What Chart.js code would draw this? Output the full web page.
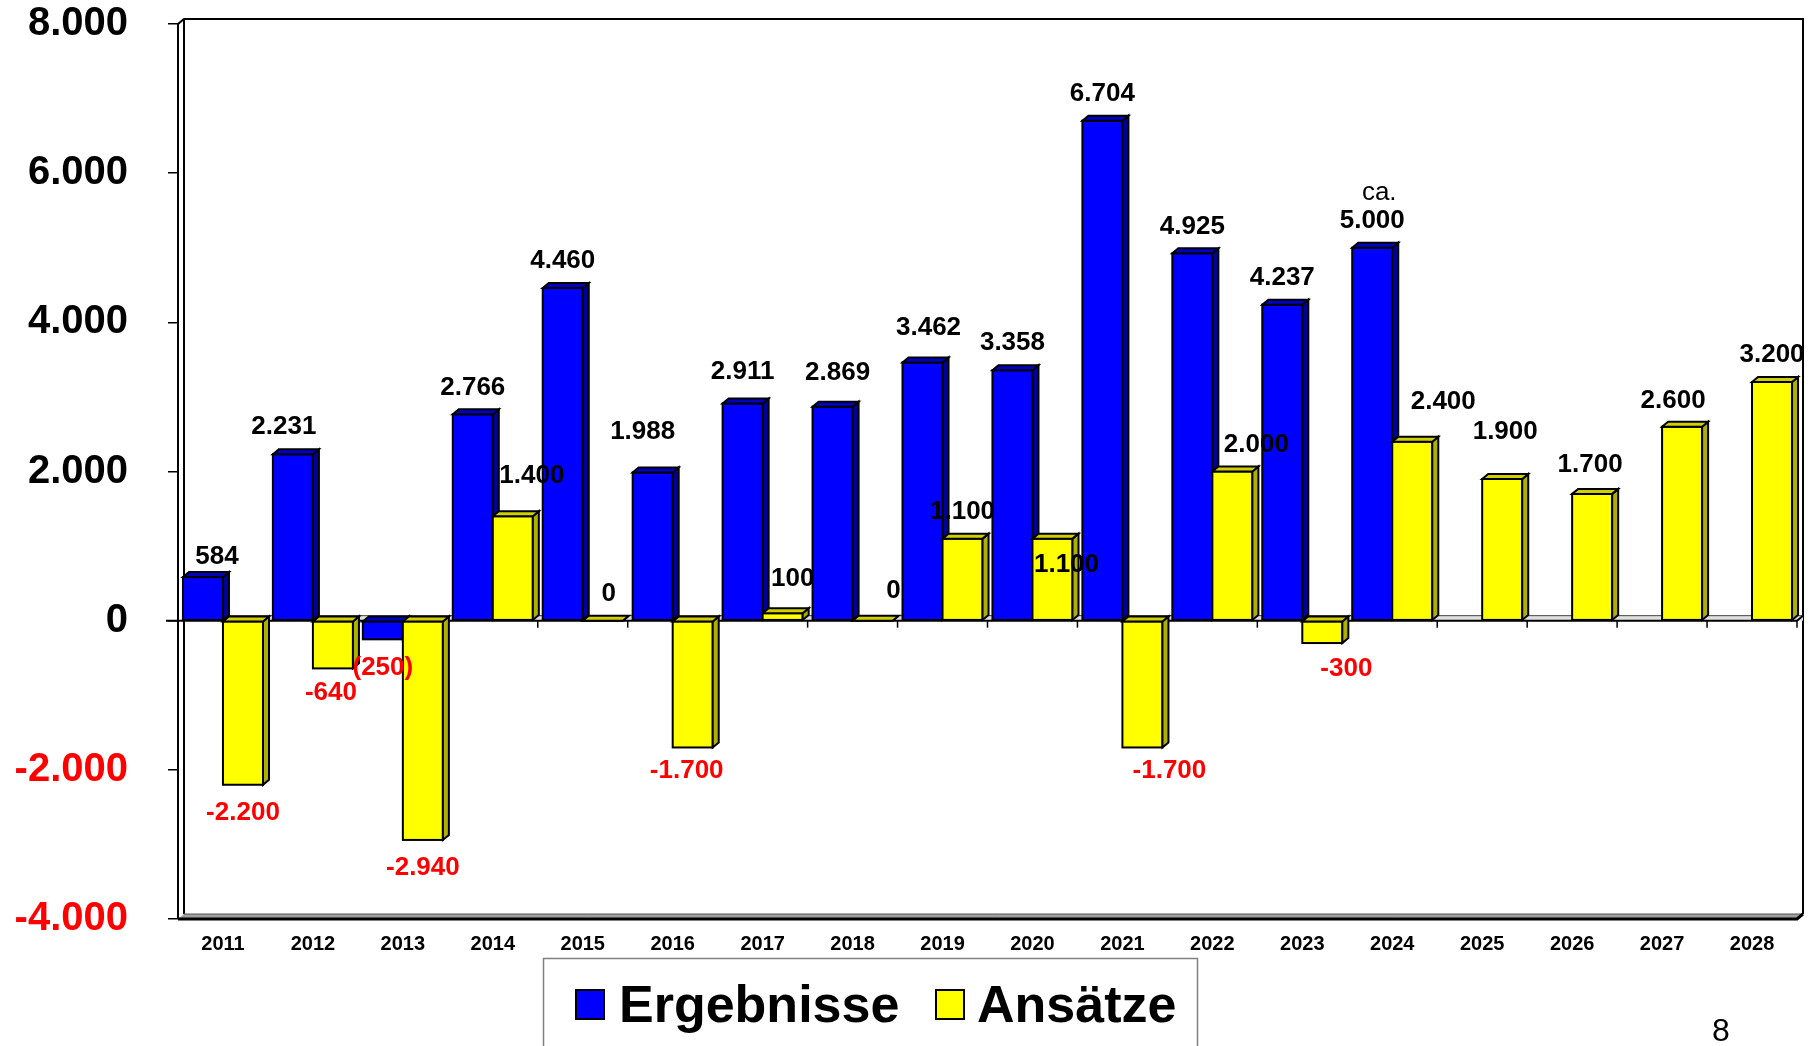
<!DOCTYPE html>
<html><head><meta charset="utf-8">
<script src="https://cdn.jsdelivr.net/npm/chart.js@4"></script>
<style>html,body{margin:0;padding:0;background:#fff;overflow:hidden}#wrap{position:relative;width:1814px;height:1046px}canvas{display:block}</style>
</head><body><div id="wrap"><canvas id="c"></canvas></div>
<script>
// ---- data ----
const years = ['2011','2012','2013','2014','2015','2016','2017','2018','2019','2020','2021','2022','2023','2024','2025','2026','2027','2028'];
const ergebnisse = [584, 2231, -250, 2766, 4460, 1988, 2911, 2869, 3462, 3358, 6704, 4925, 4237, 5000, null, null, null, null];
const ansaetze = [-2200, -640, -2940, 1400, 0, -1700, 100, 0, 1100, 1100, -1700, 2000, -300, 2400, 1900, 1700, 2600, 3200];
const seriesNames = ['Ergebnisse', 'Ansätze'];
const yMin = -4000, yMax = 8000, yStep = 2000;
const noteIndex = 13, noteText = 'ca.';
const pageNumber = '8';

// ---- label nudges (layout only, px) ----
const ergShift = [[14,7],[-9,0],[0,3],[0,0],[0,0],[-10,-14],[0,-5],[5,-7],[6,-8],[0,0],[0,0],[0,0],[0,0],[0,0],[0,0],[0,0],[0,0],[0,0]];
const ansShift = [[0,2],[-2,-2],[0,2],[19,-13],[6,0],[-6,-3],[10,-7],[21,-3],[0,0],[14,53],[27,-3],[24,0],[24,0],[31,-13],[3,-20],[-2,-2],[-9,1],[0,0]];

const FONT = '"Liberation Sans", Arial, sans-serif';
const DX = 6, DY = 5;
const colors = [
  {front:'#0000FF', side:'#00009A', top:'#0000C4'},
  {front:'#FFFF00', side:'#AFAF00', top:'#D0D000'}
];

function fmt(v){
  const s = Math.abs(v).toString().replace(/\B(?=(\d{3})+(?!\d))/g,'.');
  return (v < 0 ? '-' : '') + s;
}

const canvas = document.getElementById('c');
canvas.width = 1814; canvas.height = 1046;

const bar3d = {
  id: 'bar3d',
  beforeDatasetsDraw(chart){
    const {ctx, chartArea:a, scales} = chart;
    const y0 = scales.y.getPixelForValue(0);
    const R = a.right + DX;
    ctx.save();
    ctx.strokeStyle = '#000';
    ctx.lineWidth = 2;
    // left walls + top + right
    ctx.beginPath();
    ctx.moveTo(a.left, a.bottom); ctx.lineTo(a.left, a.top);
    ctx.lineTo(a.left + DX, a.top - DY);
    ctx.lineTo(R, a.top - DY);
    ctx.lineTo(R, a.bottom - DY);
    ctx.stroke();
    ctx.beginPath();
    ctx.moveTo(a.left + DX, a.top - DY); ctx.lineTo(a.left + DX, a.bottom - DY);
    ctx.stroke();
    // floor
    ctx.fillStyle = '#A0A0A0';
    ctx.beginPath();
    ctx.moveTo(a.left, a.bottom); ctx.lineTo(a.left + DX, a.bottom - DY);
    ctx.lineTo(R, a.bottom - DY); ctx.lineTo(R - DX, a.bottom);
    ctx.closePath(); ctx.fill();
    ctx.lineWidth = 1;
    ctx.strokeStyle = '#555';
    ctx.beginPath(); ctx.moveTo(a.left + DX, a.bottom - DY); ctx.lineTo(R, a.bottom - DY); ctx.stroke();
    ctx.lineWidth = 3; ctx.strokeStyle = '#000';
    ctx.beginPath(); ctx.moveTo(a.left, a.bottom); ctx.lineTo(R - DX, a.bottom); ctx.lineTo(R, a.bottom - DY); ctx.stroke();
    // zero plane
    ctx.fillStyle = '#E0E0E0';
    ctx.fillRect(a.left + DX, y0 - DY, R - a.left - DX, DY);
    ctx.lineWidth = 1; ctx.strokeStyle = '#444';
    ctx.beginPath(); ctx.moveTo(a.left + DX, y0 - DY); ctx.lineTo(R, y0 - DY); ctx.stroke();
    ctx.lineWidth = 2; ctx.strokeStyle = '#000';
    ctx.beginPath(); ctx.moveTo(a.left - 12, y0); ctx.lineTo(a.right, y0); ctx.lineTo(R, y0 - DY); ctx.stroke();
    // category boundary ticks at zero line
    const n = years.length;
    const w = (a.right - a.left) / n;
    ctx.lineWidth = 1.5;
    for (let i = 1; i <= n; i++){
      const x = a.left + w * i;
      ctx.beginPath(); ctx.moveTo(x, y0); ctx.lineTo(x, y0 + 7); ctx.stroke();
    }
    ctx.restore();
  },
  afterDatasetsDraw(chart){
    const {ctx} = chart;
    const metas = [chart.getDatasetMeta(0), chart.getDatasetMeta(1)];
    ctx.save();
    ctx.lineJoin = 'miter';
    for (let i = 0; i < years.length; i++){
      for (let d = 0; d < 2; d++){
        const el = metas[d].data[i];
        const v = chart.data.datasets[d].data[i];
        if (!el || v === null || v === undefined) continue;
        const p = el.getProps(['x','y','base','width'], true);
        const l = p.x - p.width/2, r = p.x + p.width/2;
        const t = Math.min(p.y, p.base), b = Math.max(p.y, p.base);
        const c = colors[d];
        ctx.strokeStyle = '#000'; ctx.lineWidth = 2;
        if (b - t > 0.5){
          ctx.fillStyle = c.front;
          ctx.fillRect(l, t, r - l, b - t);
          ctx.strokeRect(l, t, r - l, b - t);
        }
        ctx.fillStyle = c.side;
        ctx.beginPath();
        ctx.moveTo(r, t); ctx.lineTo(r + DX, t - DY); ctx.lineTo(r + DX, b - DY); ctx.lineTo(r, b); ctx.closePath();
        ctx.fill(); ctx.stroke();
        ctx.fillStyle = c.top;
        ctx.beginPath();
        ctx.moveTo(l, t); ctx.lineTo(l + DX, t - DY); ctx.lineTo(r + DX, t - DY); ctx.lineTo(r, t); ctx.closePath();
        ctx.fill(); ctx.stroke();
      }
    }
    // value labels
    ctx.textAlign = 'center'; ctx.textBaseline = 'middle';
    for (let d = 0; d < 2; d++){
      const shifts = d === 0 ? ergShift : ansShift;
      for (let i = 0; i < years.length; i++){
        const v = chart.data.datasets[d].data[i];
        if (v === null || v === undefined) continue;
        const el = metas[d].data[i];
        const p = el.getProps(['x','y','base','width'], true);
        const t = Math.min(p.y, p.base), b = Math.max(p.y, p.base);
        let y = v < 0 ? b + 26 : t - 27;
        const x = p.x + shifts[i][0];
        y += shifts[i][1];
        let txt;
        if (v < 0){
          ctx.fillStyle = '#FF0000';
          txt = d === 0 ? '(' + fmt(-v) + ')' : fmt(v);
        } else {
          ctx.fillStyle = '#000';
          txt = fmt(v);
        }
        ctx.font = 'bold 26px ' + FONT;
        ctx.fillText(txt, x, y);
        if (d === 0 && i === noteIndex){
          ctx.fillStyle = '#000';
          ctx.font = '26px ' + FONT;
          ctx.fillText(noteText, x + 7, y - 28);
        }
      }
    }
    ctx.restore();
  },
  afterDraw(chart){
    const {ctx} = chart;
    ctx.save();
    // legend box
    ctx.strokeStyle = '#808080'; ctx.lineWidth = 1.5;
    ctx.strokeRect(543.5, 958.5, 654, 120);
    ctx.font = 'bold 52px ' + FONT;
    ctx.textBaseline = 'alphabetic'; ctx.textAlign = 'left';
    const items = [{x:576, tx:619}, {x:936, tx:977}];
    for (let d = 0; d < 2; d++){
      ctx.fillStyle = colors[d].front;
      ctx.fillRect(items[d].x, 990, 28, 29);
      ctx.lineWidth = 2; ctx.strokeStyle = '#000';
      ctx.strokeRect(items[d].x, 990, 28, 29);
      ctx.fillStyle = '#000';
      ctx.fillText(seriesNames[d], items[d].tx, 1022);
    }
    // page number
    ctx.font = '32px ' + FONT;
    ctx.textAlign = 'center'; ctx.textBaseline = 'middle';
    ctx.fillText(pageNumber, 1721, 1032);
    ctx.restore();
  }
};

new Chart(canvas, {
  type: 'bar',
  data: {
    labels: years,
    datasets: [
      {label: seriesNames[0], data: ergebnisse, backgroundColor: colors[0].front, borderColor: '#000', borderWidth: 2, borderSkipped: false},
      {label: seriesNames[1], data: ansaetze, backgroundColor: colors[1].front, borderColor: '#000', borderWidth: 2, borderSkipped: false}
    ]
  },
  options: {
    responsive: false,
    devicePixelRatio: 1,
    animation: false,
    layout: {padding: {top: 24, right: 17, bottom: 0, left: 0}},
    datasets: {bar: {categoryPercentage: 0.89, barPercentage: 1.0}},
    plugins: {legend: {display: false}, tooltip: {enabled: false}},
    scales: {
      x: {
        grid: {display: false, drawTicks: false, tickLength: 0},
        border: {display: false},
        ticks: {color: '#000', font: {family: FONT, size: 20, weight: 'bold'}, padding: 13, maxRotation: 0, autoSkip: false},
        afterFit(s){ s.height = 127; s.paddingLeft = 0; s.paddingRight = 0; }
      },
      y: {
        min: yMin, max: yMax,
        grid: {drawOnChartArea: false, drawTicks: true, tickLength: 10, color: '#000', lineWidth: 1.5},
        border: {display: false},
        ticks: {
          stepSize: yStep,
          padding: 40,
          font: {family: FONT, size: 40, weight: 'bold'},
          color: (c) => c.tick && c.tick.value < 0 ? '#FF0000' : '#000',
          callback: (v) => fmt(v)
        },
        afterFit(s){ s.width = 178; s.paddingTop = 0; s.paddingBottom = 0; }
      }
    }
  },
  plugins: [bar3d]
});
</script>
</body></html>
